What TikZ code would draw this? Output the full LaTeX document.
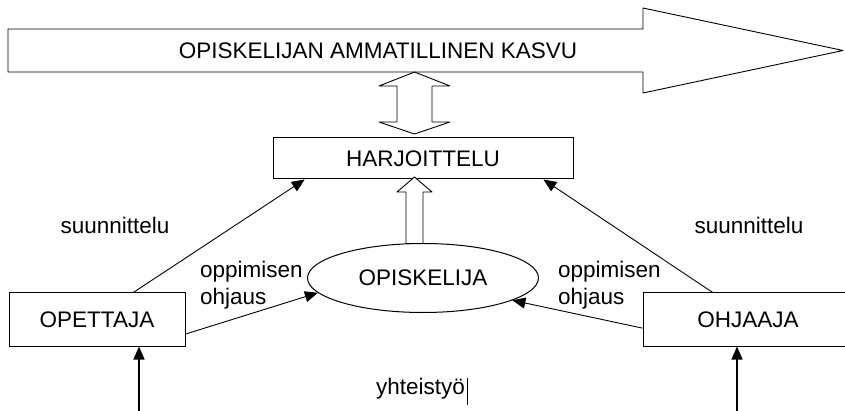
\documentclass[tikz,border=0pt]{standalone}
\usepackage{fontspec}
\setmainfont{Liberation Sans}
\usetikzlibrary{arrows.meta,shapes.geometric,calc}

\begin{document}
\begin{tikzpicture}[x=1pt,y=-1pt,font=\fontsize{22.5}{26.5}\selectfont,line join = round,
	>={Triangle[length=13pt,width=11pt]},
	box/.style={draw,line width=1pt,inner sep=0pt,minimum height=53pt},
	blk/.style={draw,line width=.9pt,fill=white},
	link/.style={->,line width=.9pt},
	lbl/.style={align=left,anchor=west,inner sep=0pt}]
		\useasboundingbox (0,0) rectangle (845,411);
		%\draw[help lines] (0,0) grid[step=50] (845,411);
		\draw[blk] (8,29) -- (643,29) -- (643,8) -- (843,50.5) -- (643,93) -- (643,72) -- (8,72) -- cycle;
		\node (kasvu) at (378,51) {OPISKELIJAN AMMATILLINEN KASVU};
		\node[box,minimum width=300pt,minimum height=41pt] (harj) at (423,158.5) {HARJOITTELU};
		\node[draw,ellipse,line width=1pt,inner sep=0pt,minimum width=231pt,minimum height=69pt] (opisk) at (423,278) {OPISKELIJA};
		\node[box,minimum width=176pt] (opet) at (97,319.5) {OPETTAJA};
		\node[box,minimum width=210pt] (ohj) at (748,319.5) {OHJAAJA};
		% block arrows
		\draw[blk] (414.5,72) -- (450,86) -- (432,86) -- (432,122) -- (450,122) -- (414.5,134) -- (379,122) -- (397,122) -- (397,86) -- (379,86) -- cycle;
		\draw[blk] (414.5,177) -- (432,192) -- (423,192) -- (423,243.5) -- (406,243.5) -- (406,192) -- (397,192) -- cycle;
		% suunnittelu
		\draw[link] ($(opet.north west)!0.705!(opet.north east)$) -- ($(harj.south west)!0.107!(harj.south east)$);
		\draw[link] ($(ohj.north west)!0.333!(ohj.north east)$) -- ($(harj.south west)!0.9!(harj.south east)$);
		\node (suL) at (115,225) {suunnittelu};
		\node (suR) at (749,225) {suunnittelu};
		% oppimisen ohjaus
		\draw[link] ($(opet.north east)!0.77!(opet.south east)$) -- (opisk.188);
		\draw[link] ($(ohj.north west)!0.66!(ohj.south west)$) -- (opisk.346);
		\node[lbl] (ohL) at (200,285) {oppimisen\\ohjaus};
		\node[lbl] (ohR) at (558,285) {oppimisen\\ohjaus};
		% yhteistyo
		\coordinate (inL) at (139,411);
		\coordinate (inR) at (737,411);
		\draw[link,line width=1.4pt] (inL) -- (inL |- opet.south);
		\draw[link,line width=1.4pt] (inR) -- (inR |- ohj.south);
		\node[inner sep=0pt] (yht) at (420.5,389) {yhteisty\"o};
		\draw[line width=1.2pt] ([xshift=2.5pt]yht.east) ++(0,-11) -- ++(0,27);
\end{tikzpicture}
\end{document}
